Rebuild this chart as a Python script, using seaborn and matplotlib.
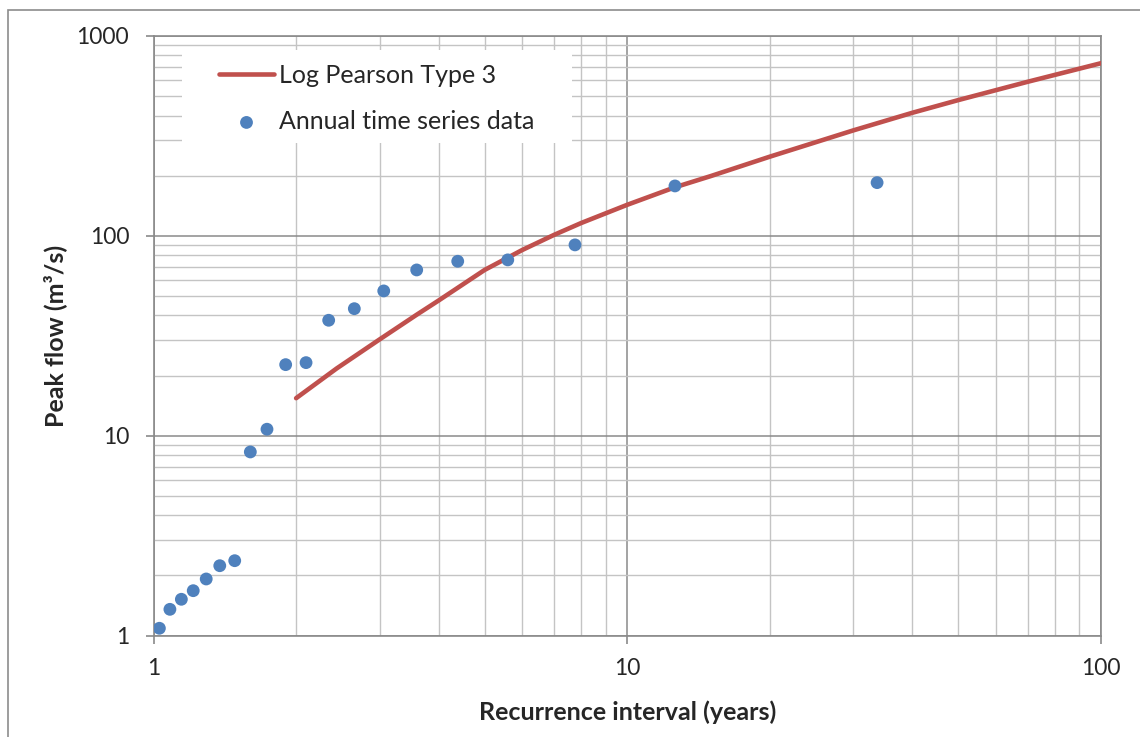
import matplotlib
matplotlib.use("Agg")
import matplotlib.pyplot as plt
import seaborn as sns
import numpy as np
import pandas as pd
from matplotlib.patches import Rectangle
from matplotlib.ticker import LogLocator, FixedLocator, NullFormatter

# Data
obs_interval = [1.029, 1.083, 1.145, 1.213, 1.292, 1.380, 1.484, 1.601, 1.736, 1.901,
                2.099, 2.343, 2.654, 3.062, 3.594, 4.387, 5.595, 7.757, 12.61, 33.68]
obs_flow = [1.087, 1.352, 1.518, 1.676, 1.918, 2.235, 2.368, 8.29, 10.77, 22.67,
            23.2, 37.8, 43.2, 53.0, 67.5, 74.6, 75.8, 90.1, 177.7, 184.6]

lp3_interval = [2, 2.436, 3, 3.594, 4, 5, 6, 7, 8, 10, 12.61, 15, 20, 30, 40, 50, 70, 100]
lp3_flow = [15.4, 21.7, 30.3, 40.3, 47.5, 67.5, 84.9, 101, 116, 143, 175, 199, 249, 337,
            413, 478, 590, 731]

x_ticks = [1, 10, 100]
x_tick_labels = ["1", "10", "100"]
y_ticks = [1, 10, 100, 1000]
y_tick_labels = ["1", "10", "100", "1000"]

obs_df = pd.DataFrame({"interval": obs_interval, "flow": obs_flow})
lp3_df = pd.DataFrame({"interval": lp3_interval, "flow": lp3_flow})

sns.set_theme(style="white")
plt.rcParams["font.family"] = ["Lato", "DejaVu Sans"]

W, H = 1140, 737
fig = plt.figure(figsize=(W / 100, H / 100), dpi=100)
L, R, T, B = 153.5, 1101, 36, 635.5
ax = fig.add_axes([L / W, 1 - B / H, (R - L) / W, (B - T) / H])

# outer chart border
fig.patches.append(Rectangle((8 / W, -0.1), 1.2, 1 - 10 / H + 0.1, transform=fig.transFigure,
                             fill=False, edgecolor="#8c8c8c", linewidth=1.2, zorder=0))

ax.set_xscale("log")
ax.set_yscale("log")
ax.set_xlim(1, 100)
ax.set_ylim(1, 1000)

major_c = "#8a8a8a"
minor_c = "#c4c4c4"
ax.xaxis.set_major_locator(FixedLocator(x_ticks))
ax.yaxis.set_major_locator(FixedLocator(y_ticks))
ax.xaxis.set_minor_locator(LogLocator(base=10, subs=np.arange(2, 10)))
ax.yaxis.set_minor_locator(LogLocator(base=10, subs=np.arange(2, 10)))
ax.xaxis.set_minor_formatter(NullFormatter())
ax.yaxis.set_minor_formatter(NullFormatter())
ax.set_xticklabels(x_tick_labels)
ax.set_yticklabels(y_tick_labels)

ax.grid(True, which="major", color=major_c, linewidth=1.1, zorder=0)
ax.grid(True, which="minor", color=minor_c, linewidth=1.0, zorder=0)
ax.set_axisbelow(True)

for s in ax.spines.values():
    s.set_color(major_c)
    s.set_linewidth(1.2)

ax.tick_params(axis="both", which="major", direction="out", length=5.5, width=1.2,
               color=major_c, labelsize=16.5, bottom=True, left=True)
ax.tick_params(axis="y", which="major", pad=12)
ax.tick_params(axis="x", which="major", pad=11)
ax.tick_params(axis="both", which="minor", length=0)

sns.lineplot(data=lp3_df, x="interval", y="flow", ax=ax, color="#C0504D", linewidth=3.3,
             label="Log Pearson Type 3", zorder=3)
for ln in ax.get_lines():
    ln.set_solid_joinstyle("round")
    ln.set_solid_capstyle("round")
sns.scatterplot(data=obs_df, x="interval", y="flow", ax=ax, color="#4F81BD", s=85,
                edgecolor="none", label="Annual time series data", zorder=4)

ax.set_xlabel("Recurrence interval (years)", fontsize=18, fontweight="bold")
ax.set_ylabel("Peak flow (m³/s)", fontsize=18, fontweight="bold")
ax.xaxis.set_label_coords(0.5, (B - 700) / (B - T))
ax.yaxis.set_label_coords((67 - L) / (R - L), 0.5)

# white legend background box
fig.patches.append(Rectangle((181.5 / W, 1 - 143 / H), (572 - 181.5) / W, (143 - 50) / H,
                             transform=fig.transFigure, facecolor="white", edgecolor="none",
                             zorder=2.5))
ax.set_zorder(1)
handles, labels = ax.get_legend_handles_labels()
ax.get_legend().remove()
leg = fig.legend(handles, labels, loc="upper left", bbox_to_anchor=(219 / W, 1 - 64 / H),
                 frameon=False, fontsize=18, handlelength=2.2, handletextpad=0.2,
                 borderpad=0, labelspacing=0.92, borderaxespad=0)
leg.set_zorder(5)

fig.savefig("out.png", dpi=100)
